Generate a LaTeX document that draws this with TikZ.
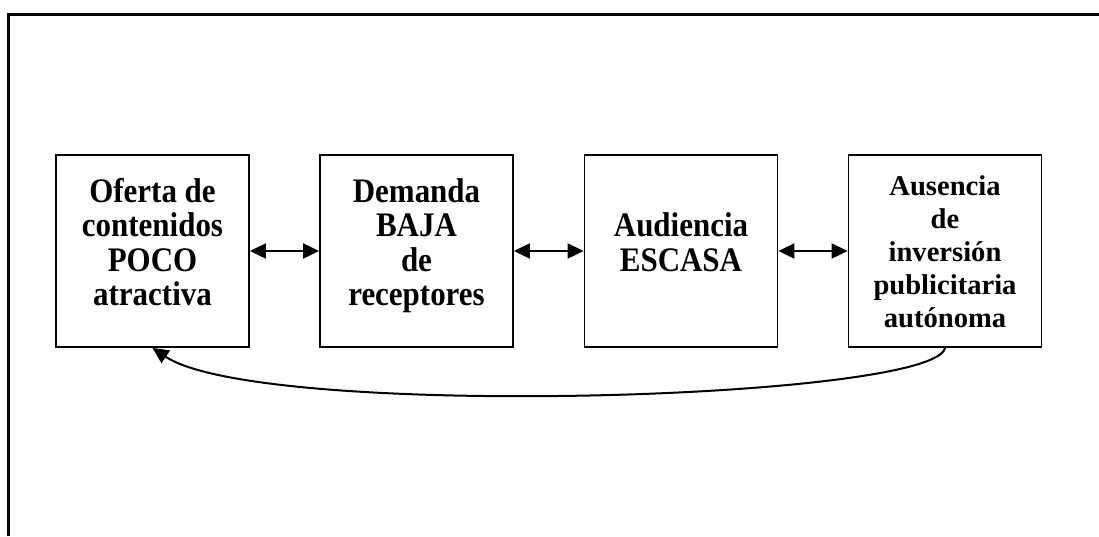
\documentclass[tikz,border=0pt]{standalone}
\usepackage{fontspec}
\setmainfont{Liberation Serif}
\newfontfamily\cajafont[FakeStretch=0.9]{Liberation Serif}
\usepackage{tikz}
\usetikzlibrary{arrows.meta, positioning}

% text of a box, lifted by #1 of space below it
\newcommand{\textocaja}[2]{\parbox[c][192pt][c]{193pt}{\centering\strut #2\strut\par\vspace{#1}}}

\tikzset{
  caja/.style={draw, line width=1.8pt, minimum width=193pt, minimum height=192pt,
    inner sep=0pt, font=\cajafont\bfseries\fontsize{34.4}{34.5}\selectfont},
  punta/.style={Triangle[length=16pt,width=15pt]},
  flecha/.style={line width=2pt, {Triangle[length=16pt,width=15pt]}-{Triangle[length=16pt,width=15pt]}},
}

\begin{document}
\begin{tikzpicture}[x=1pt, y=-1pt]
\useasboundingbox (0,0) rectangle (1099,536);

% Frame
\draw[line width=2.4pt] (8.5,536) -- (8.5,14.5) -- (1099,14.5);

% Boxes
\node[caja] (oferta) at (152.5,251) {\textocaja{8pt}{Oferta de\\contenidos\\POCO\\atractiva}};
\node[caja] (demanda) at (416.5,251) {\textocaja{8pt}{Demanda\\BAJA\\de\\receptores}};
\node[caja] (audiencia) at (681,251) {\textocaja{8pt}{Audiencia\\ESCASA}};
\node[caja, font=\bfseries\fontsize{28.6}{33}\selectfont] (inversion) at (945,251)
  {\textocaja{-7pt}{Ausencia\\de\\inversión\\publicitaria\\autónoma}};

% Arrows between boxes
\draw[flecha] (oferta) -- (demanda);
\draw[flecha] (demanda) -- (audiencia);
\draw[flecha] (audiencia) -- (inversion);

% Feedback
\draw[line width=2pt, -{Triangle[length=16pt,width=15pt]}] (inversion.south)
  .. controls (935,400) and (260,420) .. (oferta.south);
\end{tikzpicture}
\end{document}
